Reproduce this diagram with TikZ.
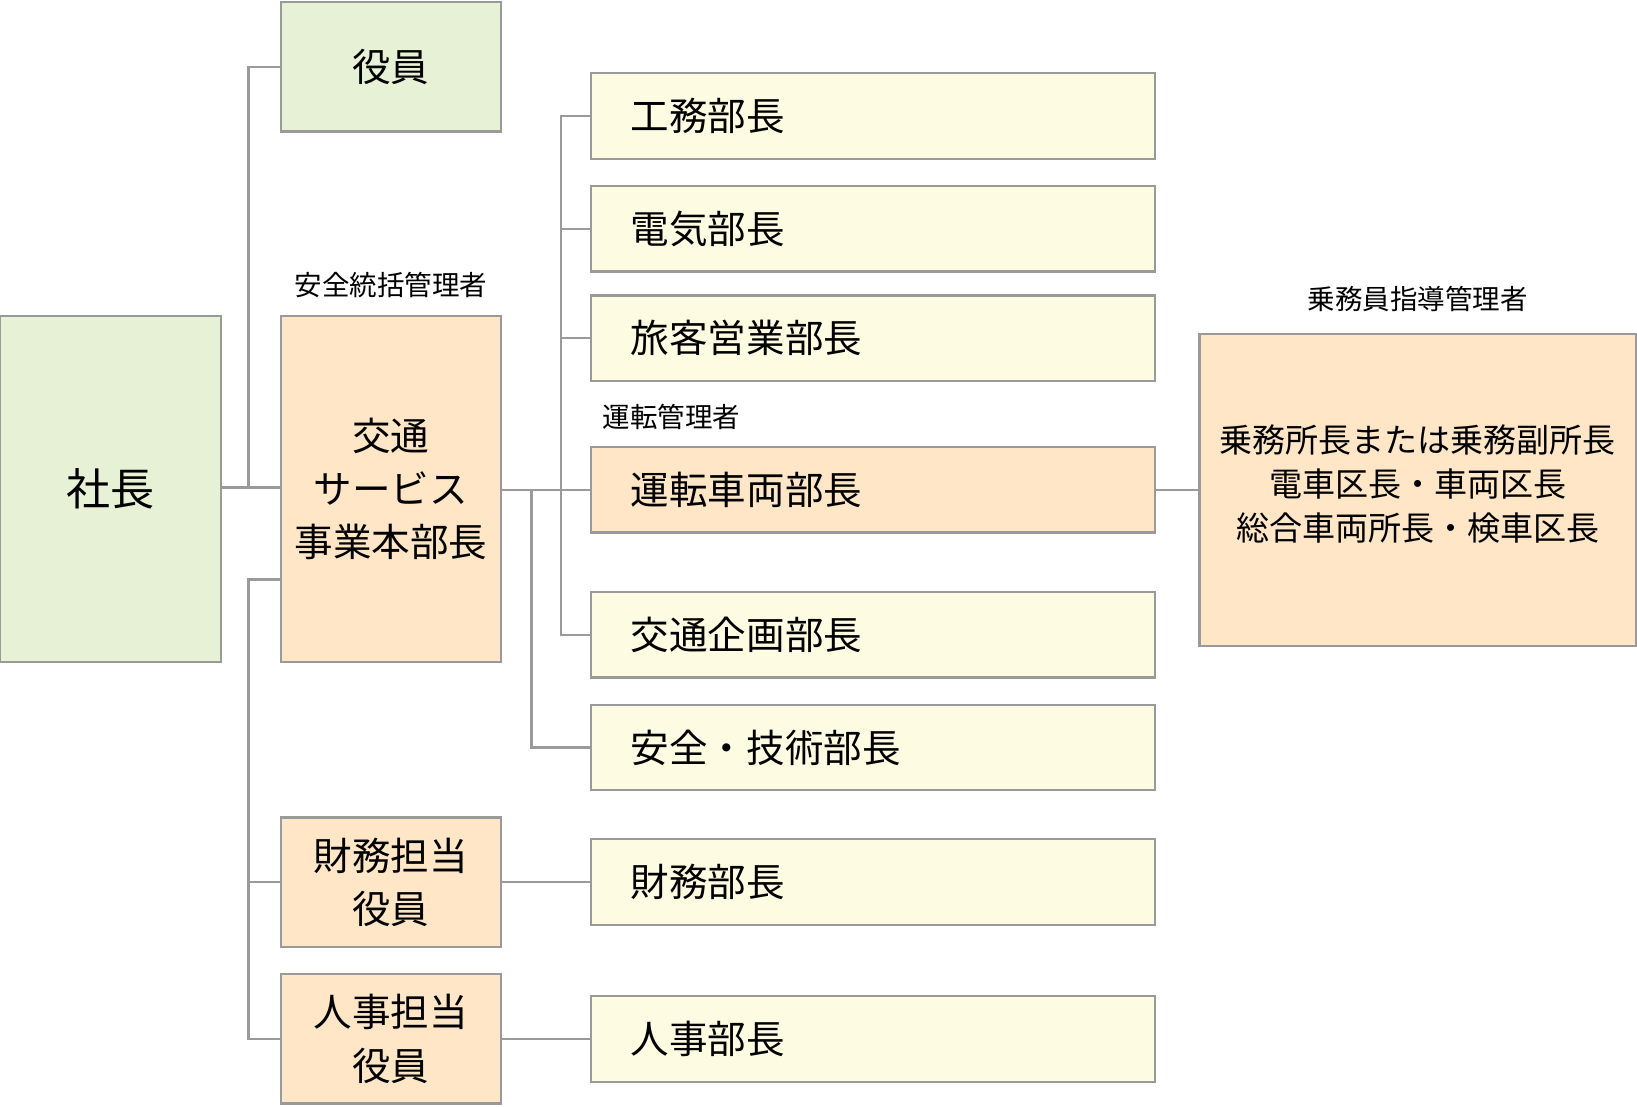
\documentclass[tikz,border=0pt]{standalone}
\usepackage{fontspec}
\setmainfont{Noto Sans CJK JP}
\usetikzlibrary{positioning}
\definecolor{boxline}{HTML}{9A9A9A}
\definecolor{greenfill}{HTML}{E7F1D5}
\definecolor{orangefill}{HTML}{FEE6C7}
\definecolor{yellowfill}{HTML}{FEFBE3}
\begin{document}
\begin{tikzpicture}[x=0.01cm,y=-0.01cm]
\tikzset{
  box/.style={draw=boxline,line width=0.6pt,inner sep=0pt},
  bigtext/.style={font=\fontsize{10.5pt}{14.5pt}\selectfont,align=center},
  deptext/.style={font=\fontsize{10.5pt}{12pt}\selectfont,anchor=west},
  tag/.style={font=\fontsize{7.5pt}{9pt}\selectfont},
  link/.style={draw=boxline,line width=0.6pt}
}
\useasboundingbox (0,0) rectangle (1568,1060);
% left column
\node[box,fill=greenfill,minimum width=2.12cm,minimum height=3.31cm] (pres) at (106,468.5) {};
\node[bigtext,font=\fontsize{12pt}{14pt}\selectfont] at (pres) {社長};
\node[box,fill=greenfill,minimum width=2.11cm,minimum height=1.24cm] (yakuin) at (374.5,64) {};
\node[bigtext] at (yakuin) {役員};
\node[box,fill=orangefill,minimum width=2.11cm,minimum height=3.31cm] (honbu) at (374.5,468.5) {};
\node[bigtext] at (honbu) {交通\\サービス\\事業本部長};
\node[tag,above=0.04cm of honbu] {安全統括管理者};
\node[box,fill=orangefill,minimum width=2.11cm,minimum height=1.24cm] (zaimuy) at (374.5,845) {};
\node[bigtext] at (zaimuy) {財務担当\\役員};
\node[box,fill=orangefill,minimum width=2.11cm,minimum height=1.24cm] (jinjiy) at (374.5,995) {};
\node[bigtext] at (jinjiy) {人事担当\\役員};
% department heads
\foreach \n/\y/\c/\t in {koumu/111/yellowfill/工務部長, denki/219/yellowfill/電気部長,
  ryokaku/324/yellowfill/旅客営業部長, unten/469/orangefill/運転車両部長,
  kikaku/608/yellowfill/交通企画部長, anzen/716/yellowfill/安全・技術部長,
  zaimu/845/yellowfill/財務部長, jinji/995/yellowfill/人事部長}{
  \node[box,fill=\c,minimum width=5.4cm,minimum height=0.82cm] (\n) at (836,\y) {};
  \node[deptext] at ([xshift=0.27cm]\n.west) {\t};
}
\node[tag,anchor=south west] at ([yshift=0.03cm]unten.north west) {運転管理者};
\node[box,fill=orangefill,minimum width=4.18cm,minimum height=2.99cm] (jomu) at (1358,469.5) {};
\node[bigtext,font=\fontsize{9pt}{12pt}\selectfont] at ([yshift=0.06cm]jomu) {乗務所長または乗務副所長\\電車区長・車両区長\\総合車両所長・検車区長};
\node[tag,above=0.08cm of jomu] {乗務員指導管理者};
% connectors
\coordinate (trunk) at (238,467);
\draw[link] (pres.east |- trunk) -- (honbu.west |- trunk);
\draw[link] (yakuin.west) -| (trunk);
\draw[link] (honbu.west |- 0,555) -- (238,555) |- (jinjiy.west);
\draw[link] (zaimuy.west) -- (238,845);
\draw[link] (honbu.east |- unten) -- (unten.west);
\draw[link] (koumu.west) -| (537,469) -- (537,608) -- (kikaku.west);
\draw[link] (denki.west) -- (537,219);
\draw[link] (ryokaku.west) -- (537,324);
\draw[link] (509,469) |- (anzen.west);
\draw[link] (zaimuy.east) -- (zaimu.west);
\draw[link] (jinjiy.east) -- (jinji.west);
\draw[link] (unten.east) -- (jomu.west |- unten.east);
\end{tikzpicture}
\end{document}
